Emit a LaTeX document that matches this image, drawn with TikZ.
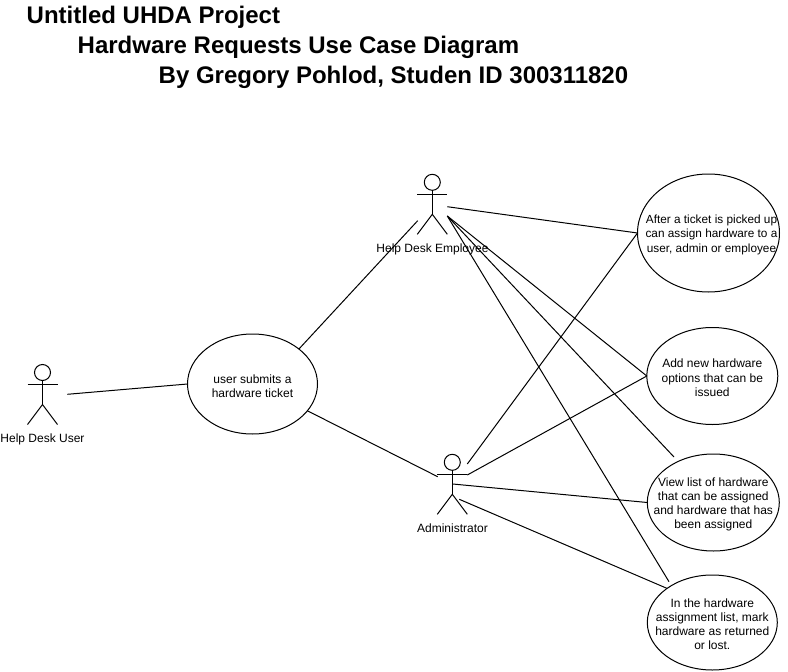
\documentclass[tikz,border=0pt]{standalone}
\usepackage{fontspec}
\setmainfont{Liberation Sans}
\usetikzlibrary{shapes.geometric}
\tikzset{
  usecase/.style={draw=black,line width=1pt,shape=ellipse,inner ysep=0pt,inner xsep=-40pt,outer sep=0pt,fill=white,align=center,font=\fontsize{12}{14.2}\selectfont},
  link/.style={draw=black,line width=1pt},
  stick/.style={draw=black,line width=1pt},
  actorname/.style={anchor=base,inner sep=0pt,font=\fontsize{12}{14.2}\selectfont},
  titleline/.style={anchor=base west,inner sep=0pt,font=\fontsize{24}{28}\selectfont\bfseries},
  actorbox/.style={minimum width=30pt,minimum height=60pt,inner sep=0pt,outer sep=0pt}
}
\newcommand{\firstline}{\rule{0pt}{12.4pt}}
\newcommand{\stickfigure}[2]{%
  \draw[stick] (#1,#2-22) circle[radius=8pt];
  \draw[stick] (#1,#2-14) -- (#1,#2+10);
  \draw[stick] (#1-15,#2-10) -- (#1+15,#2-10);
  \draw[stick] (#1-15,#2+30) -- (#1,#2+10) -- (#1+15,#2+30);
}
\begin{document}
\begin{tikzpicture}[x=1pt,y=-1pt]
\useasboundingbox (0,0) rectangle (788,672);
\node[titleline] (t1) at (26.5,23.4) {Untitled UHDA Project};
\node[titleline] (t2) at (77.5,53.4) {Hardware Requests Use Case Diagram};
\node[titleline] (t3) at (158.5,83.4) {By Gregory Pohlod, Studen ID 300311820};

\stickfigure{432.3}{204.3}
\stickfigure{452.3}{484.3}
\stickfigure{42.5}{394.5}
\node[actorbox] (emp) at (432.3,204.3) {};
\node[actorbox] (adm) at (452.3,484.3) {};
\node[actorbox] (usr) at (42.5,394.5) {};
\node[actorname] (empl) at (432.5,252.2) {Help Desk Employee};
\node[actorname] (adml) at (452.5,532.2) {Administrator};
\node[actorname] (usrl) at (42.5,442.2) {Help Desk User};

\node[usecase,minimum width=130pt,minimum height=100pt] (a) at (252.5,384) {\firstline user submits a\\hardware ticket};
\node[usecase,minimum width=142pt,minimum height=118pt,font=\fontsize{11.8}{14.2}\selectfont] (b) at (708.5,233) {\firstline\hspace*{6pt}After a ticket is picked up\\\hspace*{6pt}can assign hardware to a\\\hspace*{6pt}user, admin or employee};
\node[usecase,minimum width=131pt,minimum height=97pt] (c) at (712.3,376) {\firstline Add new hardware\\options that can be\\issued};
\node[usecase,minimum width=132pt,minimum height=97pt] (d) at (713.3,502.5) {\firstline View list of hardware\\that can be assigned\\and hardware that has\\been assigned};
\node[usecase,minimum width=130pt,minimum height=95pt] (e) at (712.3,622.5) {\firstline In the hardware\\assignment list, mark\\hardware as returned\\or lost.};

\coordinate (usrP) at (67.3,394.3);
\coordinate (empA) at (417.7,220.7);
\coordinate (empB) at (447.3,206.7);
\coordinate (empR) at (447.3,216);
\coordinate (admA) at (437.7,476.7);
\coordinate (admB) at (467.3,464);
\coordinate (admC) at (467.3,475);
\coordinate (admD) at (452.7,484);
\coordinate (admE) at (459.3,499.3);
\coordinate (dTop) at (674,457);
\coordinate (eTop) at (669,581.7);

\draw[link] (usrP) -- (a.west);
\draw[link] (empA) -- (a.37);
\draw[link] (admA) -- (a.-26);
\draw[link] (empB) -- (b.west);
\draw[link] (empR) -- (c.west);
\draw[link] (empR) -- (dTop);
\draw[link] (empR) -- (eTop);
\draw[link] (admB) -- (b.west);
\draw[link] (admC) -- (c.west);
\draw[link] (admD) -- (d.west);
\draw[link] (admE) -- (e.143);
\end{tikzpicture}
\end{document}
